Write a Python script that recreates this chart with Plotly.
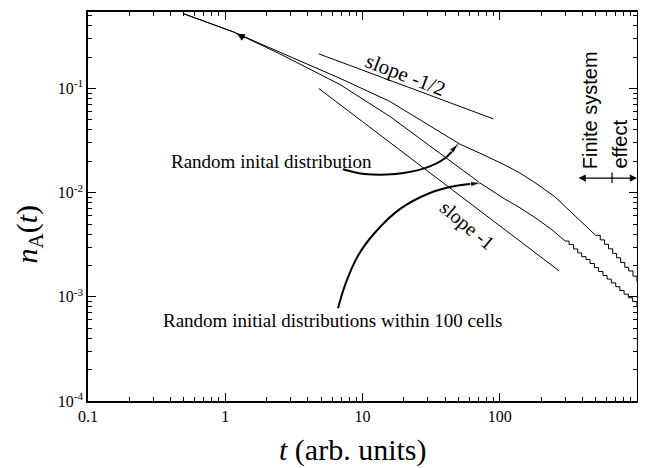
import numpy as np
import plotly.graph_objects as go

# ---- data ----
t_upper = [0.5, 1.14, 2.5, 6.86, 15.8, 30, 51.3, 71.8, 105.6, 140.4, 186.6, 252.7, 325, 418, 500]
n_upper = [0.52, 0.35, 0.223, 0.125, 0.0752, 0.045, 0.0292, 0.0239, 0.0188, 0.01542, 0.01211, 0.0091, 0.00668, 0.00491, 0.00389]
t_upper_tail = [500, 540, 580, 620, 665, 710, 760, 815, 870, 935, 1000]
n_upper_tail = [0.00389, 0.00352, 0.00319, 0.00289, 0.00261, 0.00237, 0.00214, 0.00192, 0.00177, 0.00158, 0.0014]

t_lower = [0.5, 1.14, 2.5, 6.86, 15.8, 30, 60.7, 71.8, 105.6, 140.4, 186.6, 240, 300]
n_lower = [0.52, 0.35, 0.215, 0.109, 0.054, 0.0288, 0.01445, 0.0124, 0.0089, 0.00715, 0.00561, 0.0044, 0.00343]
t_lower_tail = [300, 320, 345, 370, 395, 425, 455, 490, 525, 565, 605, 650, 700, 750, 805, 865, 930, 1000]
n_lower_tail = [0.00343, 0.00317, 0.00288, 0.00264, 0.00243, 0.00228, 0.00209, 0.00191, 0.00175,
                0.0016, 0.00148, 0.00136, 0.00125, 0.00115, 0.00106, 0.00098, 0.0009, 0.0008]

t_slope_half = [4.8, 90]
n_slope_half = [0.215, 0.051]
t_slope_one = [4.8, 270]
n_slope_one = [0.1, 0.00178]

arrow1_t = [7.2, 10.4, 17.3, 28.5, 39.9, 49.6]
arrow1_n = [0.0168, 0.0151, 0.0151, 0.0172, 0.0214, 0.0292]
arrow2_t = [6.63, 7.45, 9.27, 12.3, 18.8, 31.0, 47.2, 71.8]
arrow2_n = [0.000775, 0.00129, 0.00248, 0.00412, 0.00698, 0.00993, 0.0116, 0.0124]

finite_bar_t = [658, 658]
finite_bar_n = [0.0124, 0.0156]

x_tickvals = [0.1, 1, 10, 100, 1000]
x_ticktext = ["0.1", "1", "10", "100", "1000"]
y_tickvals = [1e-4, 1e-3, 1e-2, 1e-1]
y_ticktext = ["10<sup>-4</sup>", "10<sup>-3</sup>", "10<sup>-2</sup>", "10<sup>-1</sup>"]

FONT = "Liberation Serif, Times New Roman, serif"
SANS = "Liberation Sans, Arial, sans-serif"
BLK = "black"

fig = go.Figure()
line_style = dict(color=BLK, width=1)
fig.add_trace(go.Scatter(x=t_upper, y=n_upper, mode="lines", line=line_style))
fig.add_trace(go.Scatter(x=t_upper_tail, y=n_upper_tail, mode="lines", line=dict(color=BLK, width=1, shape="hv")))
fig.add_trace(go.Scatter(x=t_lower, y=n_lower, mode="lines", line=line_style))
fig.add_trace(go.Scatter(x=t_lower_tail, y=n_lower_tail, mode="lines", line=dict(color=BLK, width=1, shape="hv")))
fig.add_trace(go.Scatter(x=t_slope_half, y=n_slope_half, mode="lines", line=line_style))
fig.add_trace(go.Scatter(x=t_slope_one, y=n_slope_one, mode="lines", line=line_style))

for at, an in [(arrow1_t, arrow1_n), (arrow2_t, arrow2_n)]:
    sizes = [0] * (len(at) - 1) + [10]
    fig.add_trace(go.Scatter(
        x=at, y=an, mode="lines+markers",
        line=dict(color=BLK, width=2, shape="spline"),
        marker=dict(symbol="arrow", size=sizes, angleref="previous", color=BLK),
    ))

fig.add_trace(go.Scatter(x=finite_bar_t, y=finite_bar_n, mode="lines", line=dict(color=BLK, width=1.2)))

L = np.log10
annotations = [
    dict(x=L(20.7), y=L(0.136), text="slope -1/2", textangle=21, showarrow=False,
         font=dict(family=FONT, size=21, color=BLK)),
    dict(x=L(57.7), y=L(0.00481), text="slope -1", textangle=40, showarrow=False,
         font=dict(family=FONT, size=20, color=BLK)),
    dict(x=L(2.19), y=L(0.0201), text="Random inital distribution", showarrow=False,
         font=dict(family=FONT, size=19, color=BLK)),
    dict(x=L(6.0), y=L(0.000596), text="Random initial distributions within 100 cells", showarrow=False,
         font=dict(family=FONT, size=19, color=BLK)),
    dict(x=L(455), y=L(0.0161), text="Finite system", textangle=-90, showarrow=False,
         yanchor="bottom", font=dict(family=SANS, size=20, color=BLK)),
    dict(x=L(752), y=L(0.0161), text="effect", textangle=-90, showarrow=False,
         yanchor="bottom", font=dict(family=SANS, size=20, color=BLK)),
    # double headed arrow
    dict(x=L(1000), y=L(0.0138), ax=L(366), ay=L(0.0138), axref="x", ayref="y",
         text="", showarrow=True, arrowhead=2, arrowside="end+start", arrowsize=1.2,
         arrowwidth=1.2, arrowcolor=BLK),
    # small arrowhead on the curve
    dict(x=L(1.22), y=L(0.335), ax=9, ay=5, text="", showarrow=True, arrowhead=2,
         arrowsize=1, arrowwidth=1.5, arrowcolor=BLK),
    # axis titles
    dict(x=0.481, y=-0.125, xref="paper", yref="paper", yanchor="middle",
         text="<i>t</i> (arb. units)", showarrow=False, font=dict(family=FONT, size=30, color=BLK)),
    dict(x=-0.108, y=0.43, xref="paper", yref="paper", xanchor="center", yanchor="middle", textangle=-90,
         text="<i>n</i><sub>A</sub>(<i>t</i>)", showarrow=False, font=dict(family=FONT, size=30, color=BLK)),
]

axis_common = dict(
    showline=True, linecolor=BLK, linewidth=1.5, mirror="allticks",
    ticks="inside", ticklen=8, tickwidth=1.2, tickcolor=BLK,
    showgrid=False, zeroline=False,
    tickfont=dict(family=FONT, size=16, color=BLK),
    minor=dict(ticks="inside", ticklen=4, tickwidth=1, tickcolor=BLK, dtick="D1", showgrid=False),
)

# the page body has an 8px default margin, so the figure is sized to fit the 646x468 window
fig.update_layout(
    width=638, height=460,
    margin=dict(l=80, r=9, t=2, b=67),
    paper_bgcolor="white", plot_bgcolor="white",
    showlegend=False,
    annotations=annotations,
    xaxis=dict(type="log", range=[-1, 3], tickvals=x_tickvals, ticktext=x_ticktext, **axis_common),
    yaxis=dict(type="log", range=[-4, -0.266], tickvals=y_tickvals, ticktext=y_ticktext, **axis_common),
)

fig.write_html("out.html")
